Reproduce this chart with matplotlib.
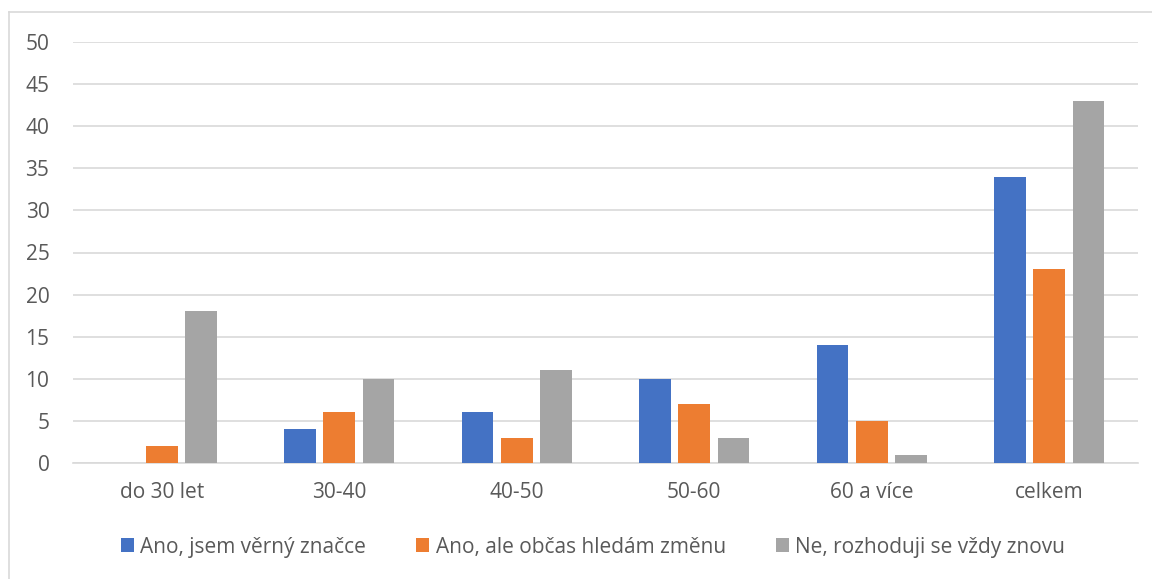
import matplotlib
matplotlib.use("Agg")
import matplotlib.pyplot as plt
import numpy as np
from matplotlib.lines import Line2D

categories = ["do 30 let", "30-40", "40-50", "50-60", "60 a více", "celkem"]
series_names = ["Ano, jsem věrný značce", "Ano, ale občas hledám změnu", "Ne, rozhoduji se vždy znovu"]
verny = [0, 4, 6, 10, 14, 34]
obcas = [2, 6, 3, 7, 5, 23]
znovu = [18, 10, 11, 3, 1, 43]
yticks = [0, 5, 10, 15, 20, 25, 30, 35, 40, 45, 50]

colors = ["#4472C4", "#ED7D31", "#A5A5A5"]
text_color = "#595959"
grid_color = "#D9D9D9"

plt.rcParams['font.family'] = ['Open Sans', 'DejaVu Sans']

fig = plt.figure(figsize=(11.52, 5.79), dpi=100)
ax = fig.add_axes([73/1152, 1-463/579, (1138-73)/1152, (463-42)/579])

x = np.arange(len(categories))
w = 0.1775
pitch = 0.2225
for i, (vals, name, c) in enumerate(zip([verny, obcas, znovu], series_names, colors)):
    ax.bar(x + (i-1)*pitch, vals, width=w, color=c, label=name, zorder=3)

ax.set_xlim(-0.5, len(categories)-0.5)
ax.set_ylim(0, 50)
ax.set_yticks(yticks)
ax.set_xticks(x)
ax.set_xticklabels(categories)
ax.yaxis.grid(True, color=grid_color, linewidth=1.2, zorder=0)
ax.set_axisbelow(True)
for s in ['top', 'right', 'left']:
    ax.spines[s].set_visible(False)
ax.spines['bottom'].set_color(grid_color)
ax.spines['bottom'].set_linewidth(1.2)
ax.tick_params(axis='both', length=0, colors=text_color, labelsize=15)
ax.tick_params(axis='x', pad=14)
ax.tick_params(axis='y', pad=17)

handles, labels = ax.get_legend_handles_labels()
leg = fig.legend(handles, labels, loc='center', bbox_to_anchor=(593/1152, 1-547/579),
                 ncol=3, frameon=False, fontsize=15, handlelength=0.62, handleheight=0.62,
                 handletextpad=0.3, columnspacing=2.4, labelcolor=text_color)

# chart border (top and left visible)
fig.add_artist(Line2D([9/1152, 9/1152], [0, 1-12/579], color=grid_color, linewidth=1.2))
fig.add_artist(Line2D([9/1152, 1], [1-12/579, 1-12/579], color=grid_color, linewidth=1.2))

fig.savefig("out.png", dpi=100)
